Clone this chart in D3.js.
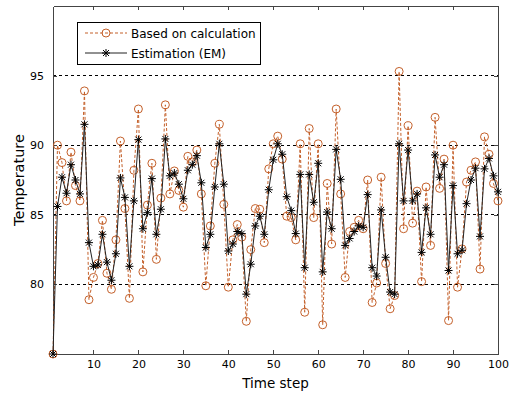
<!DOCTYPE html>
<html>
<head>
<meta charset="utf-8">
<script src="https://cdn.jsdelivr.net/npm/d3@7"></script>
<style>
  html, body { margin: 0; padding: 0; background: #fff; }
  svg { display: block; }
  text { font-family: "DejaVu Sans", Verdana, sans-serif; fill: #000; }
</style>
</head>
<body>
<svg id="chart" width="516" height="394"></svg>
<script>
// ---- data ----
const timeSteps = d3.range(1, 101);
const calculated = [
  75, 90.0, 88.75, 86.0, 89.5, 87.1, 86.0, 93.9, 78.9, 80.5,
  81.5, 84.6, 80.8, 79.65, 83.2, 90.3, 85.45, 79.0, 88.2, 92.6,
  80.9, 85.7, 88.7, 81.8, 86.2, 92.9, 86.5, 88.15, 86.75, 85.55,
  89.2, 88.8, 89.65, 86.5, 79.9, 84.2, 88.7, 91.5, 85.75, 79.8,
  83.2, 84.3, 83.4, 77.35, 82.5, 85.45, 85.4, 83.0, 88.3, 90.1,
  90.65, 89.0, 84.9, 84.8, 83.2, 90.1, 78.0, 91.2, 84.8, 90.1,
  77.1, 87.25, 82.9, 92.6, 86.5, 80.5, 83.8, 84.1, 84.6, 84.0,
  87.5, 78.7, 80.1, 87.7, 81.5, 78.25, 79.2, 95.3, 84.0, 91.4,
  84.4, 86.7, 80.2, 87.0, 82.8, 92.0, 86.9, 89.0, 77.4, 90.0,
  79.8, 82.55, 87.35, 88.2, 88.8, 81.1, 90.6, 89.35, 87.25, 86.0
];
const estimated = [
  75, 85.6, 87.7, 86.55, 88.6, 87.5, 86.5, 91.5, 83.0, 81.3,
  81.4, 83.6, 81.6, 80.3, 82.2, 87.65, 86.25, 81.3, 86.0, 90.4,
  84.0, 85.15, 87.6, 83.6, 85.4, 90.45, 87.8, 88.0, 87.2, 86.15,
  88.2, 88.6, 89.25, 87.3, 82.65, 83.6, 87.0, 90.1, 87.2, 82.4,
  82.9, 83.8, 83.65, 79.3, 81.45, 84.2, 84.9, 83.6, 86.8, 88.95,
  90.1, 89.35, 86.3, 85.3, 83.65, 87.9, 81.2, 87.9, 85.9, 88.7,
  80.9, 85.2, 84.0, 89.7, 87.55, 82.8, 83.3, 83.8, 84.2, 84.1,
  86.45, 81.2, 80.6, 85.35, 81.95, 79.45, 79.3, 90.1, 86.0, 89.65,
  86.0, 86.5, 82.3, 85.5, 83.6, 89.3, 87.7, 88.6, 81.0, 87.1,
  82.2, 82.45, 85.8, 87.5, 88.35, 83.45, 88.3, 89.05, 87.8, 86.65
];
const xTicks = [10, 20, 30, 40, 50, 60, 70, 80, 90, 100];
const yTicks = [80, 85, 90, 95];
const seriesNames = ["Based on calculation", "Estimation (EM)"];
const xLabel = "Time step";
const yLabel = "Temperature";

// ---- layout ----
const L = 53, R = 498, T = 6, B = 354;
const orange = "#c4602a";
const svg = d3.select("#chart");

const x = d3.scaleLinear().domain([1, 100]).range([L, R]);
const y = d3.scaleLinear().domain([75, 100]).range([B, T]);

// grid
svg.append("g").selectAll("line").data(yTicks).join("line")
  .attr("x1", L).attr("x2", R)
  .attr("y1", d => y(d)).attr("y2", d => y(d))
  .attr("stroke", "#000").attr("stroke-width", 1)
  .attr("stroke-dasharray", "3,3")
  .attr("shape-rendering", "crispEdges");

// axes
function styleAxis(g) {
  g.selectAll("path.domain").attr("stroke", "#444").attr("shape-rendering", "crispEdges");
  g.selectAll(".tick line").attr("stroke", "#444").attr("shape-rendering", "crispEdges");
  g.selectAll(".tick text").attr("font-family", "DejaVu Sans, sans-serif").attr("font-size", 11).attr("fill", "#000");
}
svg.append("g").attr("transform", `translate(0,${B})`)
  .call(d3.axisBottom(x).tickValues(xTicks).tickSizeInner(-4).tickSizeOuter(0).tickPadding(6))
  .call(styleAxis);
svg.append("g").attr("transform", `translate(0,${T})`)
  .call(d3.axisTop(x).tickValues(xTicks).tickSizeInner(-4).tickSizeOuter(0).tickFormat(""))
  .call(styleAxis);
svg.append("g").attr("transform", `translate(${L},0)`)
  .call(d3.axisLeft(y).tickValues(yTicks).tickSizeInner(-4).tickSizeOuter(0).tickPadding(9))
  .call(styleAxis);
svg.append("g").attr("transform", `translate(${R},0)`)
  .call(d3.axisRight(y).tickValues(yTicks).tickSizeInner(-4).tickSizeOuter(0).tickFormat(""))
  .call(styleAxis);

// series
const calcData = timeSteps.map((t, i) => ({ t, v: calculated[i] }));
const estData = timeSteps.map((t, i) => ({ t, v: estimated[i] }));
const line = d3.line().x(d => x(d.t)).y(d => y(d.v));

svg.append("path").datum(calcData)
  .attr("d", line).attr("fill", "none")
  .attr("stroke", orange).attr("stroke-width", 1)
  .attr("stroke-dasharray", "3,2");
svg.append("g").selectAll("circle").data(calcData).join("circle")
  .attr("cx", d => x(d.t)).attr("cy", d => y(d.v)).attr("r", 4)
  .attr("fill", "none").attr("stroke", orange).attr("stroke-width", 1);

svg.append("path").datum(estData)
  .attr("d", line).attr("fill", "none")
  .attr("stroke", "#222").attr("stroke-width", 1);

const star = "M-4,0L4,0M0,-4L0,4M-3,-3L3,3M-3,3L3,-3";
svg.append("g").selectAll("path").data(estData).join("path")
  .attr("transform", d => `translate(${x(d.t)},${y(d.v)})`)
  .attr("d", star).attr("fill", "none").attr("stroke", "#000").attr("stroke-width", 1);

// legend
const lg = svg.append("g");
lg.append("rect").attr("x", 77.5).attr("y", 22.5).attr("width", 183).attr("height", 42)
  .attr("fill", "#fff").attr("stroke", "#000").attr("stroke-width", 1);
const rows = [33, 53];
lg.append("line").attr("x1", 85).attr("x2", 127).attr("y1", rows[0]).attr("y2", rows[0])
  .attr("stroke", orange).attr("stroke-dasharray", "3,2");
lg.append("circle").attr("cx", 106).attr("cy", rows[0]).attr("r", 4)
  .attr("fill", "none").attr("stroke", orange);
lg.append("line").attr("x1", 85).attr("x2", 127).attr("y1", rows[1]).attr("y2", rows[1])
  .attr("stroke", "#222");
lg.append("path").attr("transform", `translate(106,${rows[1]})`).attr("d", star)
  .attr("fill", "none").attr("stroke", "#000");
lg.selectAll("text").data(seriesNames).join("text")
  .attr("x", 131).attr("y", (d, i) => rows[i] + 4.5)
  .attr("font-size", 12).text(d => d);

// axis labels
svg.append("text").attr("x", (L + R) / 2).attr("y", 388)
  .attr("text-anchor", "middle").attr("font-size", 13.5).text(xLabel);
svg.append("text").attr("transform", `translate(24,${(T + B) / 2}) rotate(-90)`)
  .attr("text-anchor", "middle").attr("font-size", 14.5).text(yLabel);
</script>
</body>
</html>
